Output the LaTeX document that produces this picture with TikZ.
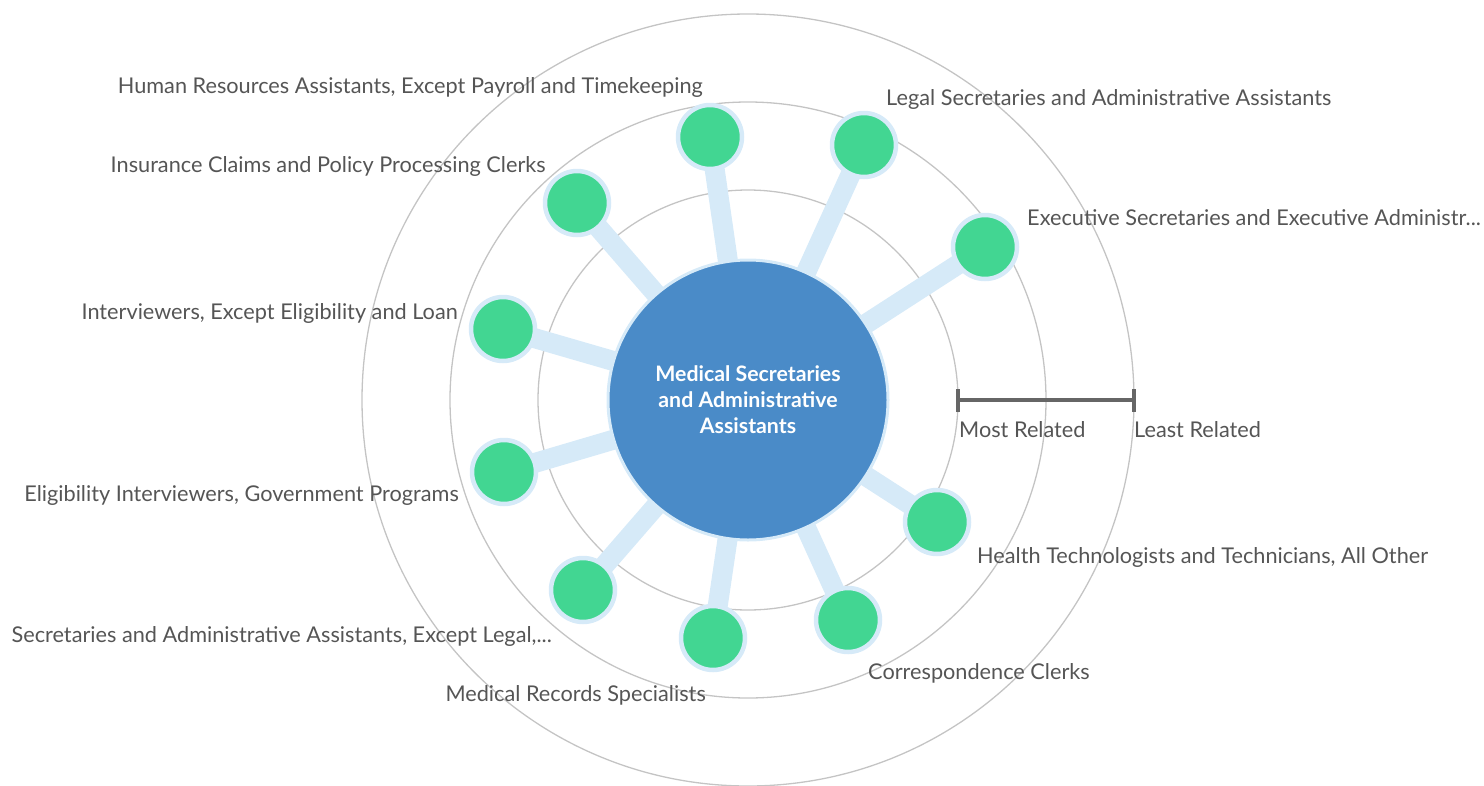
\documentclass[tikz,border=0pt]{standalone}
\usepackage{fontspec}
\setmainfont{Lato}
\definecolor{ringgray}{HTML}{C4C4C4}
\definecolor{spoke}{HTML}{D6EAF8}
\definecolor{mainblue}{HTML}{4A8BC8}
\definecolor{nodegreen}{HTML}{42D692}
\definecolor{labelgray}{HTML}{555555}
\definecolor{bargray}{HTML}{666666}
\begin{document}
\begin{tikzpicture}[x=1pt,y=-1pt,
  ring/.style={draw=ringgray,line width=1.3pt},
  spokeline/.style={draw=spoke,line width=20pt},
  leaf/.style={circle,fill=nodegreen,draw=spoke,line width=4.5pt,minimum size=64pt,inner sep=0pt},
  hub/.style={circle,fill=mainblue,draw=spoke,line width=3pt,minimum size=280pt,inner sep=0pt,
    text=white,font=\fontsize{21.3}{26}\selectfont\bfseries,align=center},
  lbl/.style={font=\fontsize{21.7}{26}\selectfont,text=labelgray,inner sep=0pt,text height=15.6pt,text depth=0pt},
  barline/.style={draw=bargray,line width=4pt}]
\useasboundingbox (0,0) rectangle (1484,785);
\coordinate (c) at (748,400);
\draw[ring] (c) circle[radius=210];
\draw[ring] (c) circle[radius=298];
\draw[ring] (c) circle[radius=386];
% leaf positions
\coordinate (phr) at (710,137);
\coordinate (plegal) at (864,145);
\coordinate (pexec) at (985,247);
\coordinate (pins) at (577,203);
\coordinate (pint) at (503,329);
\coordinate (pelig) at (504,472);
\coordinate (psec) at (583,590);
\coordinate (pmed) at (713,638);
\coordinate (pcorr) at (848,620);
\coordinate (phealth) at (937,522);
\foreach \p in {phr,plegal,pexec,pins,pint,pelig,psec,pmed,pcorr,phealth}
  \draw[spokeline] (c) -- (\p);
\node[hub] (hub) at (c) {Medical Secretaries\\and Administrative\\Assistants};
\node[leaf] (hr) at (phr) {};
\node[leaf] (legal) at (plegal) {};
\node[leaf] (exec) at (pexec) {};
\node[leaf] (ins) at (pins) {};
\node[leaf] (int) at (pint) {};
\node[leaf] (elig) at (pelig) {};
\node[leaf] (sec) at (psec) {};
\node[leaf] (med) at (pmed) {};
\node[leaf] (corr) at (pcorr) {};
\node[leaf] (health) at (phealth) {};
% labels
\node[lbl,anchor=east] (lhr) at (703,86) {Human Resources Assistants, Except Payroll and Timekeeping};
\node[lbl,anchor=west] (llegal) at (886,98) {Legal Secretaries and Administrative Assistants};
\node[lbl,anchor=west] (lexec) at (1027,218) {Executive Secretaries and Executive Administr...};
\node[lbl,anchor=east] (lins) at (546,165) {Insurance Claims and Policy Processing Clerks};
\node[lbl,anchor=east] (lint) at (458,312) {Interviewers, Except Eligibility and Loan};
\node[lbl,anchor=east] (lelig) at (459,494) {Eligibility Interviewers, Government Programs};
\node[lbl,anchor=east] (lsec) at (552,635) {Secretaries and Administrative Assistants, Except Legal,...};
\node[lbl,anchor=east] (lmed) at (706,694) {Medical Records Specialists};
\node[lbl,anchor=west] (lcorr) at (868,672) {Correspondence Clerks};
\node[lbl,anchor=west] (lhealth) at (977,556) {Health Technologists and Technicians, All Other};
% scale bar
\coordinate (b1) at (958,400);
\coordinate (b2) at (1134,400);
\draw[barline] (b1) -- (b2);
\draw[barline] ([yshift=-11.5pt]b1) -- ([yshift=11.5pt]b1);
\draw[barline] ([yshift=-11.5pt]b2) -- ([yshift=11.5pt]b2);
\node[lbl,anchor=west] (most) at (959,430) {Most Related};
\node[lbl,anchor=west] (least) at (1134,430) {Least Related};
\end{tikzpicture}
\end{document}
